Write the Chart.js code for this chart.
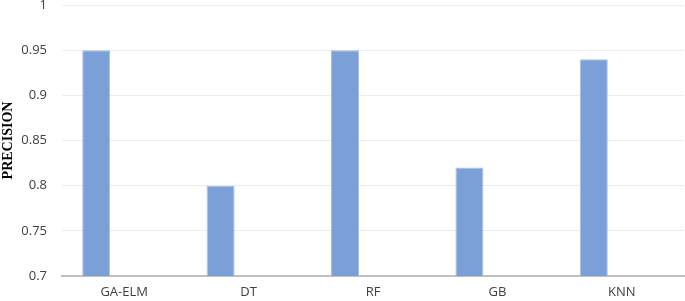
<!DOCTYPE html>
<html>
<head>
<meta charset="utf-8">
<script src="https://cdn.jsdelivr.net/npm/chart.js@4.4.1/dist/chart.umd.min.js"></script>
<style>
  html, body { margin: 0; padding: 0; background: #fff; }
  #wrap { width: 685px; height: 301px; }
</style>
</head>
<body>
<div id="wrap"><canvas id="chart"></canvas></div>
<script>
// chart values
const models = ['GA-ELM', 'DT', 'RF', 'GB', 'KNN'];
const precision = [0.95, 0.80, 0.95, 0.82, 0.94];
const yTicks = [0.7, 0.75, 0.8, 0.85, 0.9, 0.95, 1];

const barColor = '#7b9fd7';

const ctx = document.getElementById('chart').getContext('2d');
const myChart = new Chart(ctx, {
    type: 'bar',
    data: {
        labels: models,
        datasets: [
            {
                label: 'Precision',
                data: precision,
                backgroundColor: barColor,
                borderColor: '#a6bfe6',
                borderWidth: 1
            },
            // empty series, the original sheet had room for three bars per group
            { label: '', data: [] },
            { label: '', data: [] }
        ]
    },
    options: {
        responsive: true,
        maintainAspectRatio: false,
        animation: false,
        layout: { padding: { top: 5, right: 1, bottom: 0, left: 0 } },
        plugins: {
            legend: { display: false },
            tooltip: { enabled: false }
        },
        datasets: {
            bar: { categoryPercentage: 0.675, barPercentage: 1 }
        },
        scales: {
            x: {
                grid: { display: false, drawTicks: false },
                border: { color: '#bfbfbf', width: 2 },
                ticks: {
                    color: '#404040',
                    font: { family: 'Open Sans', size: 13 },
                    padding: 8
                },
                afterFit: function (scale) {
                    scale.height = 25;
                    scale.paddingLeft = 0;
                    scale.paddingRight = 0;
                }
            },
            y: {
                min: 0.7,
                max: 1,
                afterBuildTicks: function (scale) {
                    scale.ticks = yTicks.map(v => ({ value: v }));
                },
                grid: { color: '#ececec', lineWidth: 1, drawTicks: false },
                border: { display: false },
                ticks: {
                    color: '#404040',
                    font: { family: 'Open Sans', size: 13 },
                    padding: 15,
                    callback: function (v) { return String(Math.round(v * 100) / 100); }
                },
                title: {
                    display: true,
                    text: 'PRECISION',
                    color: '#000',
                    font: { family: 'Liberation Serif', size: 14, weight: 'bold' },
                    padding: { top: 0, bottom: 0 }
                },
                afterFit: function (scale) {
                    scale.width = 62;
                    scale.paddingTop = 0;
                    scale.paddingBottom = 0;
                }
            }
        }
    }
});
</script>
</body>
</html>
